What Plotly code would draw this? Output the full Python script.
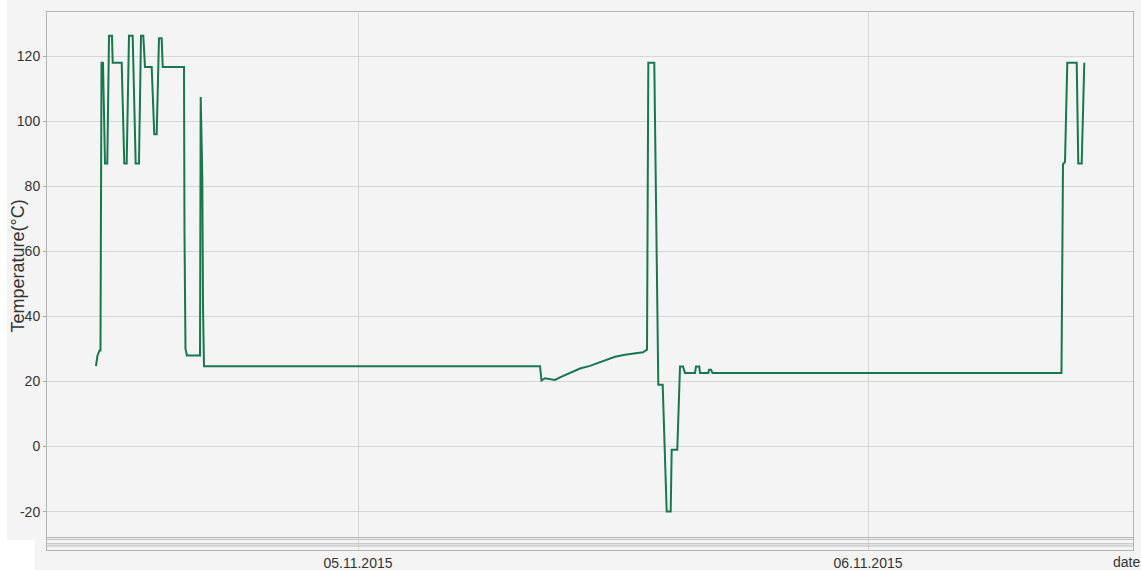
import plotly.graph_objects as go

# ---- data ----
times = [
    "2015-11-04 11:40:12", "2015-11-04 11:44:30", "2015-11-04 11:50:06", "2015-11-04 11:52:54",
    "2015-11-04 11:55:48", "2015-11-04 12:00:00", "2015-11-04 12:05:42", "2015-11-04 12:12:12",
    "2015-11-04 12:17:00", "2015-11-04 12:25:24", "2015-11-04 12:27:24", "2015-11-04 12:52:48",
    "2015-11-04 13:00:06", "2015-11-04 13:06:54", "2015-11-04 13:13:24", "2015-11-04 13:23:48",
    "2015-11-04 13:32:18", "2015-11-04 13:41:36", "2015-11-04 13:47:18", "2015-11-04 13:53:48",
    "2015-11-04 13:58:36", "2015-11-04 14:17:30", "2015-11-04 14:24:48", "2015-11-04 14:31:36",
    "2015-11-04 14:38:06", "2015-11-04 14:45:42", "2015-11-04 14:48:36", "2015-11-04 15:48:42",
    "2015-11-04 15:50:06", "2015-11-04 15:52:54", "2015-11-04 15:57:12", "2015-11-04 16:33:54",
    "2015-11-04 16:35:54", "2015-11-04 16:40:24", "2015-11-04 16:42:24", "2015-11-04 16:45:12",
    "2015-11-05 08:33:54", "2015-11-05 08:38:06", "2015-11-05 08:48:00", "2015-11-05 09:02:06",
    "2015-11-05 09:16:12", "2015-11-05 09:30:18", "2015-11-05 09:44:30", "2015-11-05 10:04:12",
    "2015-11-05 10:26:48", "2015-11-05 10:55:00", "2015-11-05 11:14:48", "2015-11-05 11:37:24",
    "2015-11-05 12:05:36", "2015-11-05 12:33:54", "2015-11-05 13:02:06", "2015-11-05 13:24:42",
    "2015-11-05 13:36:00", "2015-11-05 13:39:42", "2015-11-05 13:56:36", "2015-11-05 14:07:54",
    "2015-11-05 14:20:18", "2015-11-05 14:31:36", "2015-11-05 14:42:54", "2015-11-05 14:45:42",
    "2015-11-05 15:01:30", "2015-11-05 15:09:12", "2015-11-05 15:17:36", "2015-11-05 15:23:18",
    "2015-11-05 15:51:30", "2015-11-05 15:54:18", "2015-11-05 16:03:42", "2015-11-05 16:05:36",
    "2015-11-05 16:29:06", "2015-11-05 16:31:06", "2015-11-05 16:36:42", "2015-11-05 16:41:00",
    "2015-11-06 09:06:18", "2015-11-06 09:10:36", "2015-11-06 09:16:12", "2015-11-06 09:22:42",
    "2015-11-06 09:49:18", "2015-11-06 09:53:48", "2015-11-06 10:03:24", "2015-11-06 10:10:42",
]
temperature = [
    24.7, 28, 29.5, 29.5,
    118, 118, 87, 87,
    126.3, 126.3, 118, 118,
    87, 87, 126.3, 126.3,
    87, 87, 126.3, 126.3,
    116.7, 116.7, 96, 96,
    125.5, 125.5, 116.7, 116.7,
    66, 30, 28, 28,
    107.5, 83, 43, 24.7,
    24.7, 20.3, 21, 20.8,
    20.5, 21.3, 22, 23,
    24, 24.8, 25.6, 26.5,
    27.6, 28.2, 28.7, 29,
    29.8, 118, 118, 19,
    19, -20, -20, -1,
    -1, 24.6, 24.6, 22.6,
    22.6, 24.6, 24.6, 22.6,
    22.6, 23.6, 23.6, 22.6,
    22.6, 86.8, 87.5, 118,
    118, 87, 87, 118,
]
y_ticks = [-20, 0, 20, 40, 60, 80, 100, 120]
y_ticktext = ["-20", "0", "20", "40", "60", "80", "100", "120"]
x_tickvals = ["2015-11-05", "2015-11-06"]
x_ticktext = ["05.11.2015", "06.11.2015"]
x_range = ["2015-11-04 09:21:54", "2015-11-06 12:28:14"]
y_range = [-31.8, 133.6]

# ---- layout constants (pixels) ----
W, H = 1141, 570
ML, MR, MT, MB = 47, 8, 12, 20
plot_h = H - MT - MB
plot_w = W - ML - MR
FONT = "Liberation Sans, Arial, sans-serif"
GRID = "#d6d6d6"
BORDER = "#b4b4b4"


def py(ypx):
    return (H - MB - ypx) / plot_h


def px(xpx):
    return (xpx - ML) / plot_w


fig = go.Figure()
fig.add_trace(go.Scatter(
    x=times, y=temperature, mode="lines",
    line=dict(color="#17784f", width=2),
    showlegend=False, hoverinfo="x+y",
))

shapes = []
# navigator strip lines at bottom of plot area
for ypix in [537.5, 539.3, 543.8, 546.0]:
    shapes.append(dict(type="line", xref="paper", yref="paper",
                       x0=0, x1=1, y0=py(ypix), y1=py(ypix),
                       line=dict(color="#b8b8b8", width=1), layer="above"))
# white edge strips of the original screenshot
shapes.append(dict(type="rect", xref="paper", yref="paper",
                   x0=px(0), x1=px(7), y0=py(H), y1=py(0),
                   fillcolor="white", line=dict(width=0), layer="below"))
shapes.append(dict(type="rect", xref="paper", yref="paper",
                   x0=px(0), x1=px(35), y0=py(H), y1=py(540),
                   fillcolor="white", line=dict(width=0), layer="below"))

fig.update_layout(
    width=W, height=H,
    margin=dict(l=ML, r=MR, t=MT, b=MB, autoexpand=False),
    paper_bgcolor="#f4f4f4",
    plot_bgcolor="#f4f4f4",
    font=dict(family=FONT, size=14, color="#333333"),
    showlegend=False,
    shapes=shapes,
    xaxis=dict(
        type="date", range=x_range,
        tickvals=x_tickvals, ticktext=x_ticktext,
        showgrid=True, gridcolor=GRID, gridwidth=1,
        showline=True, linecolor=BORDER, linewidth=1, mirror=True,
        ticks="", tickfont=dict(family=FONT, size=14, color="#333333"),
        zeroline=False, automargin=False, fixedrange=True,
    ),
    yaxis=dict(
        range=y_range, tickvals=y_ticks, ticktext=y_ticktext,
        showgrid=True, gridcolor=GRID, gridwidth=1,
        showline=True, linecolor=BORDER, linewidth=1, mirror=True,
        ticks="outside", ticklen=3, tickcolor="#aaaaaa",
        tickfont=dict(family=FONT, size=14, color="#333333"),
        zeroline=False, automargin=False, fixedrange=True,
    ),
    annotations=[
        dict(text="Temperature(°C)", textangle=-90, xref="paper", yref="paper",
             x=0, xshift=-29.5, y=py(266), showarrow=False,
             font=dict(family=FONT, size=18, color="#333333"),
             xanchor="center", yanchor="middle"),
        dict(text="date", xref="paper", yref="paper",
             x=1, xshift=9, y=py(562), xanchor="right", yanchor="middle",
             showarrow=False, font=dict(family=FONT, size=14, color="#333333")),
    ],
)

fig.write_html(
    "out.html",
    config={"displayModeBar": False},
    post_script="document.body.style.margin='0';document.body.style.overflow='hidden';",
)
